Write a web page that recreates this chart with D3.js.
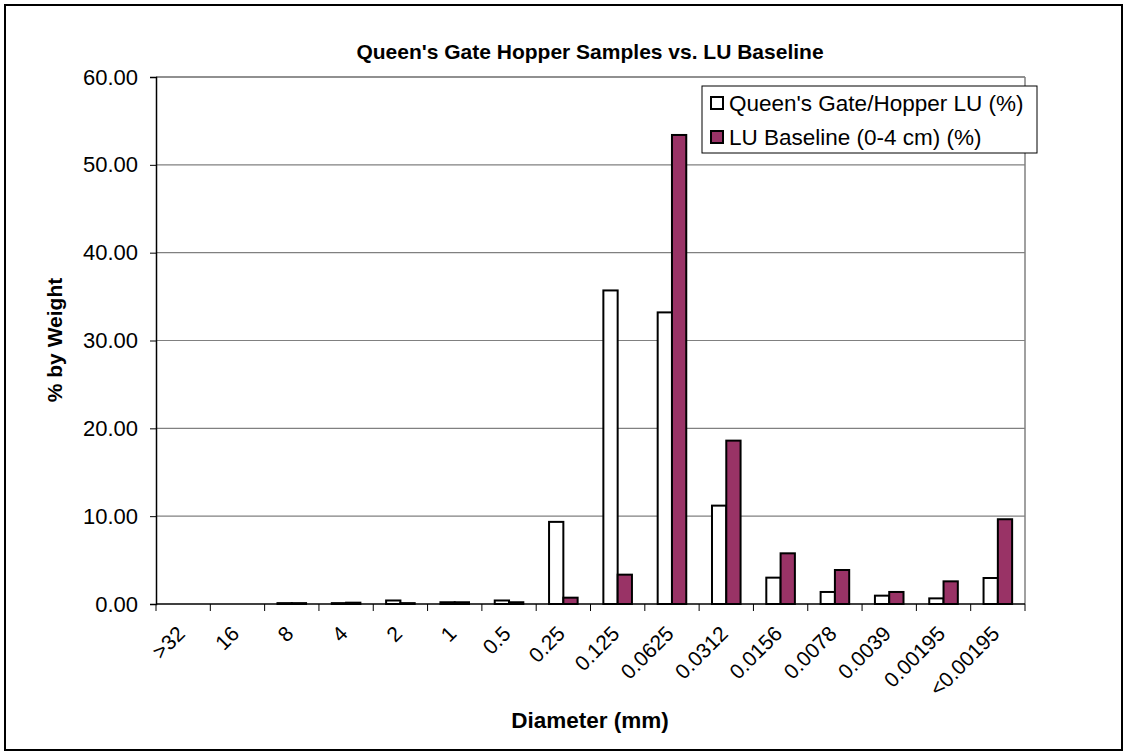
<!DOCTYPE html>
<html>
<head>
<meta charset="utf-8">
<script src="https://cdn.jsdelivr.net/npm/d3@7"></script>
<style>
  html, body { margin: 0; padding: 0; background: #fff; }
  svg { display: block; font-family: "Liberation Sans", Arial, sans-serif; }
</style>
</head>
<body>
<svg id="chart" width="1126" height="753"></svg>
<script>
const categories = [">32", "16", "8", "4", "2", "1", "0.5", "0.25", "0.125", "0.0625", "0.0312", "0.0156", "0.0078", "0.0039", "0.00195", "<0.00195"];
const seriesNames = ["Queen's Gate/Hopper LU (%)", "LU Baseline (0-4 cm) (%)"];
const queensGate = [0, 0, 0.1, 0.1, 0.4, 0.2, 0.4, 9.35, 35.7, 33.2, 11.2, 3.0, 1.37, 0.95, 0.64, 2.96];
const luBaseline = [0, 0, 0.1, 0.15, 0.1, 0.2, 0.2, 0.72, 3.34, 53.4, 18.6, 5.77, 3.87, 1.37, 2.58, 9.65];
const yTicks = [0, 10, 20, 30, 40, 50, 60];
const colors = ["#ffffff", "#993366"];

const svg = d3.select("#chart");
const m = { left: 156, right: 1025, top: 77, bottom: 604 };

// outer border
svg.append("rect").attr("x", 5).attr("y", 5).attr("width", 1117).attr("height", 745)
  .attr("fill", "#fff").attr("stroke", "#000").attr("stroke-width", 2);

const x0 = d3.scaleBand().domain(categories).range([m.left, m.right]).paddingInner(0).paddingOuter(0);
const x1 = d3.scaleBand().domain([0, 1]).range([0, x0.bandwidth()]).paddingInner(0).paddingOuter(0.9);
const y = d3.scaleLinear().domain([0, 60]).range([m.bottom, m.top]);

// gridlines
svg.append("g").selectAll("line").data(yTicks.filter(d => d > 0)).join("line")
  .attr("x1", m.left).attr("x2", m.right)
  .attr("y1", d => y(d)).attr("y2", d => y(d))
  .attr("stroke", "#808080").attr("stroke-width", 1.2);

// plot area border (top, right)
svg.append("line").attr("x1", m.right).attr("x2", m.right).attr("y1", m.top).attr("y2", m.bottom)
  .attr("stroke", "#808080").attr("stroke-width", 1.5);
svg.append("line").attr("x1", m.left).attr("x2", m.right).attr("y1", m.top).attr("y2", m.top)
  .attr("stroke", "#808080").attr("stroke-width", 1.5);

// bars
const data = categories.map((c, i) => ({ c, v: [queensGate[i], luBaseline[i]] }));
svg.append("g").selectAll("g").data(data).join("g")
  .attr("transform", d => `translate(${x0(d.c)},0)`)
  .selectAll("rect").data(d => d.v.map((v, k) => ({ v, k }))).join("rect")
  .attr("x", d => x1(d.k)).attr("width", x1.bandwidth())
  .attr("y", d => y(d.v)).attr("height", d => y(0) - y(d.v))
  .attr("fill", d => colors[d.k]).attr("stroke", "#000").attr("stroke-width", 2);

// y axis
const yAxis = d3.axisLeft(y).tickValues(yTicks).tickFormat(d3.format(".2f")).tickSize(6).tickPadding(12);
const ya = svg.append("g").attr("transform", `translate(${m.left},0)`).call(yAxis);
ya.select(".domain").attr("stroke", "#000").attr("stroke-width", 1.5);
ya.selectAll(".tick line").attr("stroke", "#000");
ya.selectAll(".tick text").attr("font-size", 22).attr("fill", "#000").attr("font-family", "Liberation Sans, Arial, sans-serif");

// x axis (ticks at category boundaries)
const xa = svg.append("g").attr("transform", `translate(0,${m.bottom})`);
xa.append("line").attr("x1", m.left).attr("x2", m.right).attr("stroke", "#000").attr("stroke-width", 1.5);
const bounds = categories.map(c => x0(c)).concat([m.right]);
xa.selectAll("line.tk").data(bounds).join("line").attr("class", "tk")
  .attr("x1", d => d).attr("x2", d => d).attr("y1", 0).attr("y2", 7).attr("stroke", "#000");
xa.selectAll("text").data(categories).join("text")
  .attr("transform", d => `translate(${x0(d) + x0.bandwidth() / 2 + 3},${31}) rotate(-45)`)
  .attr("text-anchor", "end").attr("font-size", 21).attr("fill", "#000")
  .text(d => d);

// titles
svg.append("text").attr("x", 590).attr("y", 59).attr("text-anchor", "middle")
  .attr("font-weight", "bold").attr("font-size", 21).text("Queen's Gate Hopper Samples vs. LU Baseline");
svg.append("text").attr("x", 590).attr("y", 728).attr("text-anchor", "middle")
  .attr("font-weight", "bold").attr("font-size", 22.5).text("Diameter (mm)");
svg.append("text").attr("transform", "translate(62,340) rotate(-90)").attr("text-anchor", "middle")
  .attr("font-weight", "bold").attr("font-size", 21).text("% by Weight");

// legend
const lg = svg.append("g");
lg.append("rect").attr("x", 702).attr("y", 86).attr("width", 335).attr("height", 67)
  .attr("fill", "#fff").attr("stroke", "#000").attr("stroke-width", 1);
seriesNames.forEach((n, i) => {
  const cy = 103 + i * 34;
  lg.append("rect").attr("x", 711).attr("y", cy - 6).attr("width", 12).attr("height", 12)
    .attr("fill", colors[i]).attr("stroke", "#000").attr("stroke-width", 2);
  lg.append("text").attr("x", 729).attr("y", cy + 8).attr("font-size", 22.5).text(n);
});
</script>
</body>
</html>
